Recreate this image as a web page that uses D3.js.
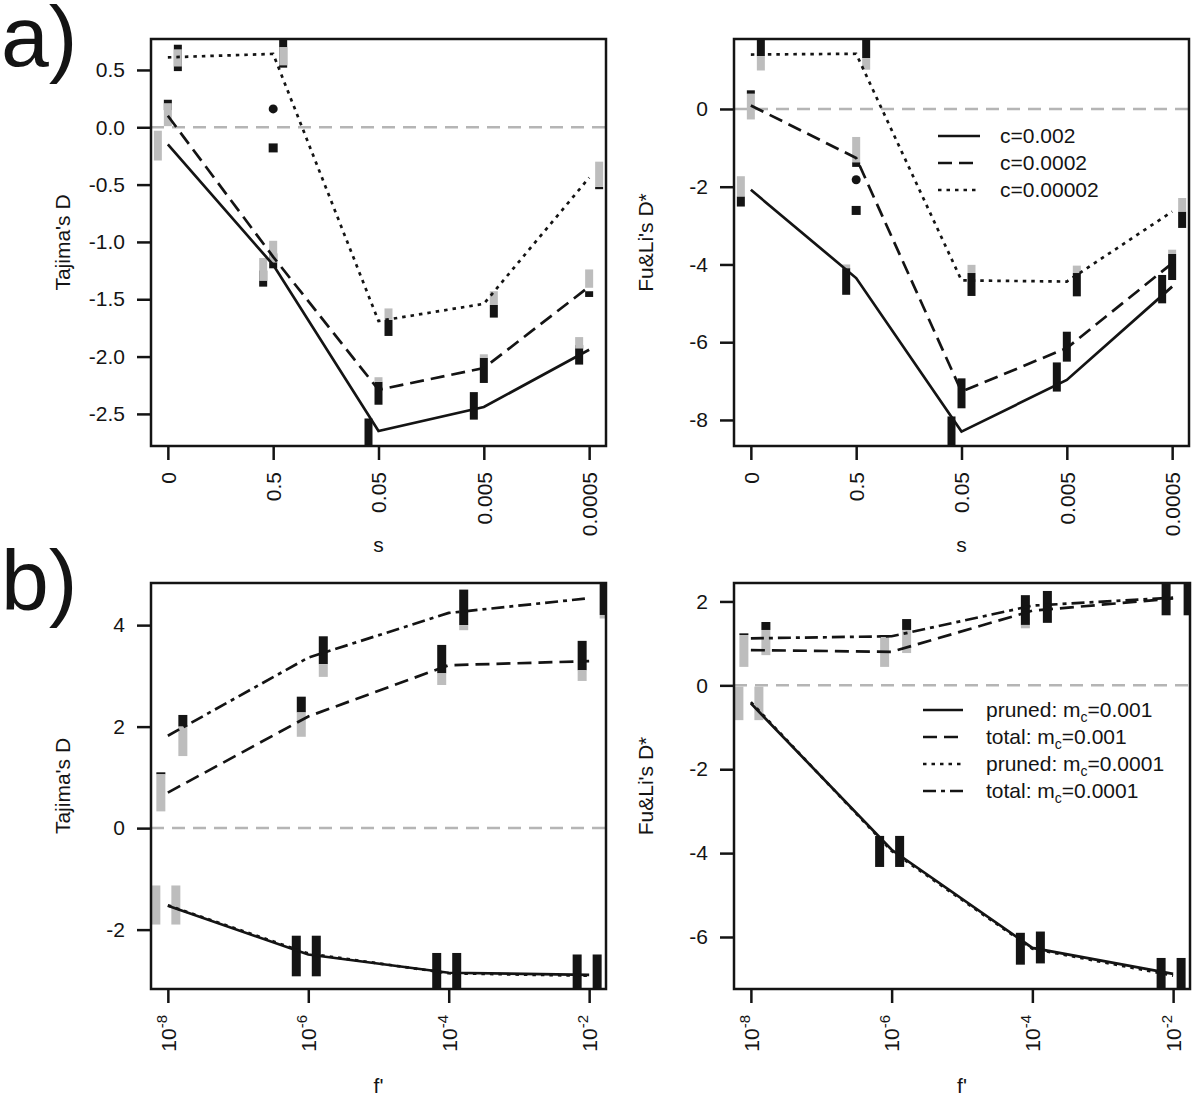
<!DOCTYPE html>
<html><head><meta charset="utf-8">
<script src="https://cdn.jsdelivr.net/npm/d3@7"></script>
<style>
body{margin:0;background:#fff}
text{font-family:"Liberation Sans",Arial,Helvetica,sans-serif;fill:#141414}
</style>
</head><body>
<svg id="chart" width="1200" height="1108"></svg>
<script>
// ---------- DATA ----------
const sCategories = ["0","0.5","0.05","0.005","0.0005"];
const fExponents = [-8,-6,-4,-2];
const legendA = ["c=0.002","c=0.0002","c=0.00002"];
const legendBPrefix = ["pruned: ","total: ","pruned: ","total: "];
const legendBValue = ["0.001","0.001","0.0001","0.0001"];

const tajA_ticks = [-2.5,-2.0,-1.5,-1.0,-0.5,0.0,0.5];
const tajA_tickLabels = ["-2.5","-2.0","-1.5","-1.0","-0.5","0.0","0.5"];
const fuA_ticks = [-8,-6,-4,-2,0];
const tajB_ticks = [-2,0,2,4];
const fuB_ticks = [-6,-4,-2,0,2];

// Panel a, Tajima's D  (rows: c=0.002, c=0.0002, c=0.00002)
const tajA_lines = [
  [-0.15,-1.20,-2.65,-2.44,-1.94],
  [ 0.10,-1.13,-2.29,-2.10,-1.39],
  [ 0.61, 0.64,-1.69,-1.54,-0.44]];
const tajA_black = [
  [null,[-1.39,-1.25],[-2.80,-2.54],[-2.55,-2.31],[-2.07,-1.90]],
  [[0.15,0.24],[-1.23,-1.10],[-2.42,-2.22],[-2.23,-2.01],[-1.48,-1.43]],
  [[0.49,0.72],[0.52,0.80],[-1.82,-1.68],[-1.66,-1.55],[-0.54,-0.52]]];
const tajA_grey = [
  [[-0.29,-0.03],[-1.34,-1.14],null,null,[-1.93,-1.83]],
  [[0.01,0.21],[-1.18,-0.99],[-2.22,-2.18],[-2.01,-1.98],[-1.40,-1.24]],
  [[0.53,0.68],[0.54,0.70],[-1.68,-1.58],[-1.55,-1.43],[-0.52,-0.30]]];
const tajA_circle = [0.16];
const tajA_square = [-0.18];
const tajA_ylim = [-2.78,0.77];

// Panel a, Fu&Li's D*
const fuA_lines = [
  [-2.08,-4.35,-8.30,-6.97,-4.57],
  [ 0.09,-1.26,-7.27,-6.15,-3.97],
  [ 1.40, 1.42,-4.41,-4.44,-2.64]];
const fuA_black = [
  [[-2.51,-2.25],[-4.78,-4.09],[-8.70,-7.91],[-7.27,-6.52],[-5.00,-4.27]],
  [[0.39,0.48],[-1.49,-1.37],[-7.70,-6.93],[-6.50,-5.73],[-4.40,-3.73]],
  [[1.36,1.80],[1.31,1.80],[-4.81,-4.22],[-4.82,-4.22],[-3.06,-2.64]]];
const fuA_grey = [
  [[-2.25,-1.73],[-4.10,-4.00],null,null,null],
  [[-0.27,0.39],[-1.37,-0.72],null,null,[-3.73,-3.62]],
  [[0.99,1.36],[1.01,1.31],[-4.22,-4.01],[-4.22,-4.03],[-2.64,-2.29]]];
const fuA_circle = [-1.82];
const fuA_square = [-2.61];
const fuA_ylim = [-8.67,1.80];

// Panel b, Tajima's D (rows: pruned 0.001, total 0.001, pruned 0.0001, total 0.0001)
const tajB_lines = [
  [-1.53,-2.49,-2.85,-2.89],
  [ 0.70, 2.20, 3.21, 3.29],
  [-1.52,-2.47,-2.86,-2.91],
  [ 1.82, 3.36, 4.24, 4.53]];
const tajB_black = [
  [null,[-2.92,-2.12],[-3.20,-2.46],[-3.20,-2.49]],
  [[1.06,1.10],[2.28,2.59],[3.05,3.61],[3.11,3.69]],
  [null,[-2.92,-2.12],[-3.20,-2.46],[-3.20,-2.49]],
  [[2.00,2.23],[3.23,3.78],[4.00,4.70],[4.20,4.90]]];
const tajB_grey = [
  [[-1.90,-1.13],null,null,null],
  [[0.33,1.06],[1.80,2.28],[2.82,3.05],[2.90,3.11]],
  [[-1.90,-1.13],null,null,null],
  [[1.42,2.00],[2.98,3.23],[3.90,4.00],[4.13,4.20]]];
const tajB_ylim = [-3.17,4.83];

// Panel b, Fu&Li's D*
const fuB_lines = [
  [-0.43,-3.92,-6.26,-6.88],
  [ 0.84, 0.80, 1.78, 2.07],
  [-0.40,-3.95,-6.28,-6.92],
  [ 1.12, 1.17, 1.90, 2.09]];
const fuB_black = [
  [null,[-4.33,-3.59],[-6.66,-5.90],[-7.30,-6.50]],
  [[1.20,1.24],[1.15,1.20],[1.44,2.15],[1.67,2.50]],
  [null,[-4.33,-3.59],[-6.63,-5.87],[-7.30,-6.50]],
  [[1.32,1.51],[1.32,1.58],[1.49,2.25],[1.67,2.50]]];
const fuB_grey = [
  [[-0.83,-0.03],null,null,null],
  [[0.44,1.20],[0.44,1.15],[1.36,1.44],null],
  [[-0.83,-0.03],null,null,null],
  [[0.72,1.32],[0.77,1.32],null,null]];
const fuB_ylim = [-7.24,2.44];

// ---------- STYLE / LAYOUT ----------
const BLACK = "#141414", GREY = "#bdbdbd", ZERO = "#b5b5b5";
const DASH = {solid:null, dashed:"14 7", dotted:"3.5 5", dashdot:"13 5 4 5"};
const LW = 2.7;
const stylesA = ["solid","dashed","dotted"];
const stylesB = ["solid","dashed","dotted","dashdot"];
const offA = [-10,0,10];      // px offsets of interval markers
const offB = [-12,-7,8,15];

const svg = d3.select("#chart");
const defs = svg.append("defs");

function drawPanel(p){
  const b = p.box;
  const g = svg.append("g");
  defs.append("clipPath").attr("id","clip"+p.id)
    .append("rect").attr("x",b.l).attr("y",b.t).attr("width",b.r-b.l).attr("height",b.b-b.t);
  const y = d3.scaleLinear().domain(p.ylim).range([b.b,b.t]);
  const x = p.x;
  const inner = g.append("g").attr("clip-path","url(#clip"+p.id+")");

  inner.append("line").attr("x1",b.l).attr("x2",b.r).attr("y1",y(0)).attr("y2",y(0))
    .attr("stroke",ZERO).attr("stroke-width",2.5).attr("stroke-dasharray","13 8");

  const drawRects = (arr,color)=>{
    arr.forEach((ser,si)=>ser.forEach((r,i)=>{
      if(!r) return;
      inner.append("rect")
        .attr("x",x(p.xv[i])+p.off[si]-p.mw/2).attr("y",y(r[1]))
        .attr("width",p.mw).attr("height",y(r[0])-y(r[1])).attr("fill",color);
    }));
  };
  drawRects(p.black,BLACK);
  drawRects(p.grey,GREY);

  if(p.circle){
    p.circle.forEach(v=>inner.append("circle").attr("cx",x(p.xv[1])).attr("cy",y(v)).attr("r",4.5).attr("fill",BLACK));
    p.square.forEach(v=>inner.append("rect").attr("x",x(p.xv[1])-4.5).attr("y",y(v)-4.5).attr("width",9).attr("height",9).attr("fill",BLACK));
  }

  const line = d3.line().x((d,i)=>x(p.xv[i])).y(d=>y(d));
  p.lines.forEach((ser,si)=>{
    inner.append("path").attr("d",line(ser)).attr("fill","none")
      .attr("stroke",BLACK).attr("stroke-width",LW)
      .attr("stroke-dasharray",DASH[p.styles[si]]);
  });

  g.append("rect").attr("x",b.l).attr("y",b.t).attr("width",b.r-b.l).attr("height",b.b-b.t)
    .attr("fill","none").attr("stroke",BLACK).attr("stroke-width",2.5);

  // y axis
  const ya = g.append("g").attr("transform",`translate(${b.l},0)`)
    .call(d3.axisLeft(y).tickValues(p.yticks).tickFormat((d,i)=>p.ylabels?p.ylabels[i]:String(d))
      .tickSize(14).tickPadding(12).tickSizeOuter(0));
  ya.select(".domain").remove();
  ya.selectAll("line").attr("stroke",BLACK).attr("stroke-width",2.5);
  ya.selectAll("text").attr("font-size","21px").attr("fill",BLACK)
    .style("font-family",'"Liberation Sans",Arial,sans-serif');

  // x axis
  const xa = g.append("g").attr("transform",`translate(0,${b.b})`)
    .call(d3.axisBottom(x).tickValues(p.xv).tickSize(14).tickSizeOuter(0));
  xa.select(".domain").remove();
  xa.selectAll("line").attr("stroke",BLACK).attr("stroke-width",2.5);
  xa.selectAll("text")
    .attr("transform","rotate(-90)").attr("x",-26).attr("y",0).attr("dy","0.35em")
    .style("text-anchor","end").attr("font-size","21px").attr("fill",BLACK)
    .style("font-family",'"Liberation Sans",Arial,sans-serif')
    .each(function(d,i){
      const t = d3.select(this); t.text(null);
      if(p.log){
        t.append("tspan").text("10");
        t.append("tspan").attr("dy","-0.6em").attr("font-size","15px").text(String(d));
      } else {
        t.text(p.xlabels[i]);
      }
    });

  // titles
  g.append("text").attr("transform",`translate(${b.l-81},${(b.t+b.b)/2}) rotate(-90)`)
    .attr("text-anchor","middle").attr("font-size","21px").text(p.ytitle);
  g.append("text").attr("x",(b.l+b.r)/2).attr("y",b.b+p.xtitleDy)
    .attr("text-anchor","middle").attr("font-size","21px").text(p.xtitle);
}

const boxA1 = {l:151,r:606,t:39,b:446};
const boxA2 = {l:734,r:1189,t:39,b:446};
const boxB1 = {l:151,r:606,t:583,b:989};
const boxB2 = {l:734,r:1190,t:583,b:989};

const catIdx = sCategories.map((d,i)=>i+1);
const xCat = box => d3.scaleLinear().domain([0.84,5.16]).range([box.l,box.r]);
const xLog = box => d3.scaleLinear().domain([-8.24,-1.76]).range([box.l,box.r]);

drawPanel({id:"a1",box:boxA1,x:xCat(boxA1),xv:catIdx,xlabels:sCategories,ylim:tajA_ylim,
  yticks:tajA_ticks,ylabels:tajA_tickLabels,lines:tajA_lines,black:tajA_black,grey:tajA_grey,
  circle:tajA_circle,square:tajA_square,styles:stylesA,off:offA,mw:8,ytitle:"Tajima's D",xtitle:"s",xtitleDy:106});
drawPanel({id:"a2",box:boxA2,x:xCat(boxA2),xv:catIdx,xlabels:sCategories,ylim:fuA_ylim,
  yticks:fuA_ticks,lines:fuA_lines,black:fuA_black,grey:fuA_grey,
  circle:fuA_circle,square:fuA_square,styles:stylesA,off:offA,mw:8,ytitle:"Fu&Li's D*",xtitle:"s",xtitleDy:106});
drawPanel({id:"b1",box:boxB1,x:xLog(boxB1),xv:fExponents,log:true,ylim:tajB_ylim,
  yticks:tajB_ticks,lines:tajB_lines,black:tajB_black,grey:tajB_grey,
  styles:stylesB,off:offB,mw:9,ytitle:"Tajima's D",xtitle:"f'",xtitleDy:104});
drawPanel({id:"b2",box:boxB2,x:xLog(boxB2),xv:fExponents,log:true,ylim:fuB_ylim,
  yticks:fuB_ticks,lines:fuB_lines,black:fuB_black,grey:fuB_grey,
  styles:stylesB,off:offB,mw:9,ytitle:"Fu&Li's D*",xtitle:"f'",xtitleDy:104});

// legends
const legA = svg.append("g");
legendA.forEach((lab,i)=>{
  const yy = 136 + i*27;
  legA.append("line").attr("x1",938).attr("x2",980).attr("y1",yy).attr("y2",yy)
    .attr("stroke",BLACK).attr("stroke-width",LW).attr("stroke-dasharray",DASH[stylesA[i]]);
  legA.append("text").attr("x",1000).attr("y",yy).attr("dy","0.35em").attr("font-size","21px").text(lab);
});
const legB = svg.append("g");
legendBPrefix.forEach((pre,i)=>{
  const yy = 710 + i*27;
  legB.append("line").attr("x1",923).attr("x2",963).attr("y1",yy).attr("y2",yy)
    .attr("stroke",BLACK).attr("stroke-width",LW).attr("stroke-dasharray",DASH[stylesB[i]]);
  const t = legB.append("text").attr("x",986).attr("y",yy).attr("dy","0.35em").attr("font-size","21px");
  t.append("tspan").text(pre+"m");
  t.append("tspan").attr("font-size","14px").attr("dy","5").text("c");
  t.append("tspan").attr("dy","-5").text("="+legendBValue[i]);
});

// panel letters
svg.append("text").attr("x",1).attr("y",66).attr("font-size","86px").text("a)");
svg.append("text").attr("x",1).attr("y",610).attr("font-size","86px").text("b)");
</script>
</body></html>
